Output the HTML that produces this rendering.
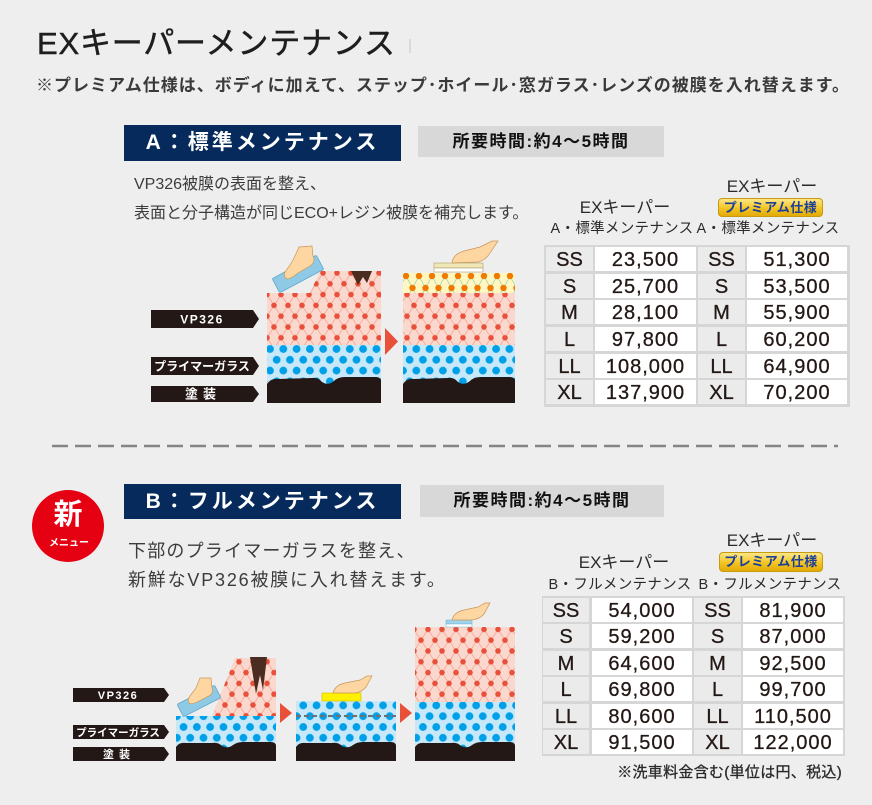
<!DOCTYPE html>
<html><head><meta charset="utf-8">
<style>
*{margin:0;padding:0;box-sizing:border-box}
html,body{width:872px;height:805px;overflow:hidden;background:#eeeeee}
body{position:relative;font-family:"Liberation Sans","Noto Sans CJK JP",sans-serif;color:#231815}
.a{position:absolute;white-space:nowrap}
.tb{position:absolute;background:#d6d6d6}
.c{position:absolute;height:24px;line-height:27px;text-align:center;font-size:20px;color:#231815;white-space:nowrap;-webkit-text-stroke:0.3px #231815}
.l{background:#ebebeb}
.v{background:#fff;letter-spacing:1px}
.hd{position:absolute;text-align:center;white-space:nowrap;color:#2a2a2a}
.badge{position:absolute;border-radius:4px;background:linear-gradient(#fbe786,#f3c522 55%,#e2aa06);border:1px solid #c99a10;color:#1d3f9c;font-weight:bold;font-size:13px;text-align:center;letter-spacing:0.5px;white-space:nowrap}
.nav{position:absolute;background:#062a5c;color:#fff;font-weight:bold;font-size:21px;text-align:center;letter-spacing:3px;white-space:nowrap}
.tm{position:absolute;background:#d8d8d8;color:#111;font-weight:bold;font-size:17px;text-align:center;letter-spacing:1.5px;white-space:nowrap}
</style></head><body>

<svg width="872" height="805" style="position:absolute;left:0;top:0">
<defs>
<pattern id="pk" width="14" height="21.6" patternUnits="userSpaceOnUse" x="267" y="273">
<rect width="14" height="21.6" fill="#fbd8cd"/>
<path d="M0,0 L7,10.8 L14,0 M0,21.6 L7,10.8 L14,21.6" stroke="#f3a594" stroke-width="0.8" fill="none"/>
<circle cx="0" cy="0" r="2.8" fill="#e9503b"/><circle cx="14" cy="0" r="2.8" fill="#e9503b"/>
<circle cx="0" cy="21.6" r="2.8" fill="#e9503b"/><circle cx="14" cy="21.6" r="2.8" fill="#e9503b"/>
<circle cx="7" cy="10.8" r="2.8" fill="#e9503b"/>
</pattern>
<pattern id="bl" width="13.3" height="21.6" patternUnits="userSpaceOnUse" x="270" y="349">
<rect width="13.3" height="21.6" fill="#c7e8f8"/>
<circle cx="0" cy="0" r="3.9" fill="#00a0e9"/><circle cx="13.3" cy="0" r="3.9" fill="#00a0e9"/>
<circle cx="0" cy="21.6" r="3.9" fill="#00a0e9"/><circle cx="13.3" cy="21.6" r="3.9" fill="#00a0e9"/>
<circle cx="6.65" cy="10.8" r="3.9" fill="#00a0e9"/>
</pattern>
<pattern id="yl" width="13" height="24" patternUnits="userSpaceOnUse" x="406" y="276">
<rect width="13" height="24" fill="#fff6c0"/>
<path d="M0,0 L6.5,12 L13,0 M0,24 L6.5,12 L13,24" stroke="#a3d5b5" stroke-width="0.8" fill="none"/>
<circle cx="0" cy="0" r="3.2" fill="#f07a00"/><circle cx="13" cy="0" r="3.2" fill="#f07a00"/>
<circle cx="0" cy="24" r="3.2" fill="#f07a00"/><circle cx="13" cy="24" r="3.2" fill="#f07a00"/>
<circle cx="6.5" cy="12" r="3.2" fill="#f07a00"/>
</pattern>
</defs>

<line x1="410" y1="39" x2="410" y2="53" stroke="#c4c4c4" stroke-width="1"/>

<!-- Section A labels -->
<path d="M151,310 H253 L259,319 L253,328 H151 Z" fill="#231815"/>
<path d="M151,357 H253 L259,366 L253,375 H151 Z" fill="#231815"/>
<path d="M151,386 H253 L259,394 L253,402 H151 Z" fill="#231815"/>
<text x="202" y="323.5" fill="#fff" font-size="12" font-weight="bold" text-anchor="middle" letter-spacing="1.5" font-family="Liberation Sans, Noto Sans CJK JP, sans-serif">VP326</text>
<text x="202" y="370.5" fill="#fff" font-size="12" font-weight="bold" text-anchor="middle" font-family="Liberation Sans, Noto Sans CJK JP, sans-serif">プライマーガラス</text>
<text x="203" y="398.5" fill="#fff" font-size="13" font-weight="bold" text-anchor="middle" letter-spacing="5" font-family="Liberation Sans, Noto Sans CJK JP, sans-serif">塗装</text>

<!-- A1 block -->
<rect x="267" y="345" width="114" height="40" fill="url(#bl)"/>
<polygon points="267,293 310,293 320,271 381,271 381,345 267,345" fill="url(#pk)"/>
<polygon points="351,271 372,271 367,283 363,277 358,285" fill="#4b2c20"/>
<path d="M267,384 Q271,378 278,379 L312,378 Q318,377 322,382 Q328,386 334,381 Q338,377 345,377 L376,377 Q380,377 381,380 V403 H267 Z" fill="#231815"/>
<rect x="-25" y="-8" width="50" height="16" rx="1.5" transform="translate(298,274) rotate(-28)" fill="#8ecae6" stroke="#5fa8cc" stroke-width="0.8"/>
<path d="M299,247 L312,246 L313,256 Q316,262 310,266 L298,273 Q291,279 287,279 Q283,277 285,272 L292,262 Q296,254 299,247 Z" fill="#fdd6a1" stroke="#c9955a" stroke-width="0.7"/>

<path d="M385,328 L398,341.5 L385,355 Z" fill="#e8503a"/>

<!-- A2 block -->
<rect x="403" y="273" width="112" height="20" fill="url(#yl)"/>
<rect x="403" y="293" width="112" height="52" fill="url(#pk)"/>
<rect x="403" y="345" width="112" height="40" fill="url(#bl)"/>
<path d="M403,384 Q407,378 414,379 L448,378 Q454,377 458,382 Q464,386 470,381 Q474,377 481,377 L510,377 Q514,377 515,380 V403 H403 Z" fill="#231815"/>
<rect x="434" y="263" width="49" height="5" fill="#efe7b5" stroke="#b0a070" stroke-width="0.6"/>
<rect x="434" y="268" width="49" height="4" fill="#ffffff" stroke="#b0a070" stroke-width="0.6"/>
<path d="M452,263 Q453,254 464,251 L480,247 L492,241 L498,241 L490,253 Q486,260 478,262 Z" fill="#fdd6a1" stroke="#c9955a" stroke-width="0.7"/>

<!-- dashed separator -->
<line x1="52" y1="446" x2="838" y2="446" stroke="#858585" stroke-width="2.5" stroke-dasharray="16 7"/>

<!-- new badge -->
<circle cx="68" cy="526" r="36" fill="#e50012"/>
<text x="68" y="524" fill="#fff" font-size="29" font-weight="bold" text-anchor="middle" font-family="Liberation Sans, Noto Sans CJK JP, sans-serif">新</text>
<text x="69" y="546" fill="#fff" font-size="10" font-weight="bold" text-anchor="middle" font-family="Liberation Sans, Noto Sans CJK JP, sans-serif">メニュー</text>

<!-- Section B labels -->
<path d="M73,688 H164 L169,695 L164,702 H73 Z" fill="#231815"/>
<path d="M73,725 H164 L169,732 L164,739 H73 Z" fill="#231815"/>
<path d="M73,747 H164 L169,754 L164,761 H73 Z" fill="#231815"/>
<text x="118" y="699" fill="#fff" font-size="11" font-weight="bold" text-anchor="middle" letter-spacing="1.5" font-family="Liberation Sans, Noto Sans CJK JP, sans-serif">VP326</text>
<text x="118" y="736" fill="#fff" font-size="10.5" font-weight="bold" text-anchor="middle" font-family="Liberation Sans, Noto Sans CJK JP, sans-serif">プライマーガラス</text>
<text x="119" y="758" fill="#fff" font-size="11" font-weight="bold" text-anchor="middle" letter-spacing="5" font-family="Liberation Sans, Noto Sans CJK JP, sans-serif">塗装</text>

<!-- B1 -->
<rect x="176" y="716" width="100" height="32" fill="url(#bl)"/>
<polygon points="212,716 235,658 276,658 276,716" fill="url(#pk)"/>
<polygon points="250,657 267,657 263,690 260,675 256,694" fill="#4b2c20"/>
<path d="M176,747 Q179,742 186,743 L212,743 Q218,742 222,746 Q228,749 233,745 Q237,742 243,742 L271,742 Q275,742 276,745 V761 H176 Z" fill="#231815"/>
<rect x="-21" y="-7" width="42" height="14" rx="1.5" transform="translate(199,701) rotate(-27)" fill="#8ecae6" stroke="#5fa8cc" stroke-width="0.8"/>
<path d="M200,678 L211,678 L212,688 Q214,693 209,696 L199,701 Q192,705 189,703 Q187,700 190,696 L196,688 Q198,683 200,678 Z" fill="#fdd6a1" stroke="#c9955a" stroke-width="0.7"/>

<path d="M280,703 L292,713 L280,723 Z" fill="#e8503a"/>

<!-- B2 -->
<rect x="296" y="701" width="100" height="47" fill="url(#bl)"/>
<line x1="296" y1="716" x2="396" y2="716" stroke="#707070" stroke-width="2" stroke-dasharray="5 3"/>
<path d="M296,747 Q299,742 306,743 L332,743 Q338,742 342,746 Q348,749 353,745 Q357,742 363,742 L391,742 Q395,742 396,745 V761 H296 Z" fill="#231815"/>
<rect x="322" y="693" width="39" height="8" fill="#fff100" stroke="#d4c800" stroke-width="0.7"/>
<path d="M333,693 Q335,685 345,683 L360,680 L367,676 L372,676 L366,687 Q362,692 355,693 Z" fill="#fdd6a1" stroke="#c9955a" stroke-width="0.7"/>

<path d="M400,703 L412,713 L400,723 Z" fill="#e8503a"/>

<!-- B3 -->
<rect x="415" y="627" width="100" height="75" fill="url(#pk)"/>
<rect x="415" y="702" width="100" height="46" fill="url(#bl)"/>
<path d="M415,747 Q418,742 425,743 L451,743 Q457,742 461,746 Q467,749 472,745 Q476,742 482,742 L510,742 Q514,742 515,745 V761 H415 Z" fill="#231815"/>
<rect x="446" y="620" width="26" height="4" fill="#9fd3ee" stroke="#6fb0d0" stroke-width="0.5"/>
<rect x="446" y="624" width="26" height="3" fill="#ffffff" stroke="#6fb0d0" stroke-width="0.5"/>
<path d="M452,620 Q454,612 464,610 L478,607 L485,603 L490,603 L484,614 Q480,619 472,620 Z" fill="#fdd6a1" stroke="#c9955a" stroke-width="0.7"/>
</svg>

<!-- Title -->
<div class="a" style="left:37px;top:26px;height:36px;line-height:36px;font-size:31px;letter-spacing:0.8px;color:#1e1e1e;-webkit-text-stroke:0.5px #1e1e1e">EXキーパーメンテナンス</div>
<div class="a" style="left:36px;top:76px;height:20px;line-height:20px;font-size:17px;font-weight:bold;letter-spacing:1px;color:#3a3a3a">※プレミアム仕様は、ボディに加えて、ステップ･ホイール･窓ガラス･レンズの被膜を入れ替えます。</div>

<!-- Section A headings -->
<div class="nav" style="left:124px;top:125px;width:277px;height:36px;line-height:36px">A：標準メンテナンス</div>
<div class="tm" style="left:418px;top:126px;width:246px;height:31px;line-height:31px">所要時間:約4～5時間</div>
<div class="a" style="left:134px;top:175px;height:20px;line-height:20px;font-size:16px;color:#3c3c3c">VP326被膜の表面を整え、</div>
<div class="a" style="left:134px;top:204px;height:20px;line-height:20px;font-size:16px;color:#3c3c3c">表面と分子構造が同じECO+レジン被膜を補充します。</div>

<!-- Table A headers -->
<div class="hd" style="left:565px;top:199px;width:120px;height:18px;line-height:18px;font-size:17px">EXキーパー</div>
<div class="hd" style="left:542px;top:221px;width:160px;height:16px;line-height:16px;font-size:14.5px;letter-spacing:0.3px">A・標準メンテナンス</div>
<div class="hd" style="left:712px;top:178px;width:120px;height:18px;line-height:18px;font-size:17px">EXキーパー</div>
<div class="badge" style="left:718px;top:198px;width:105px;height:19px;line-height:17px">プレミアム仕様</div>
<div class="hd" style="left:688px;top:221px;width:160px;height:16px;line-height:16px;font-size:14.5px;letter-spacing:0.3px">A・標準メンテナンス</div>

<!-- Table A -->
<div class="tb" style="left:544px;top:245px;width:306px;height:162px">
<div class="c l" style="left:2px;top:2px;width:47px">SS</div><div class="c v" style="left:51px;top:2px;width:101px">23,500</div><div class="c l" style="left:154px;top:2px;width:47px">SS</div><div class="c v" style="left:203px;top:2px;width:100px">51,300</div>
<div class="c l" style="left:2px;top:29px;width:47px">S</div><div class="c v" style="left:51px;top:29px;width:101px">25,700</div><div class="c l" style="left:154px;top:29px;width:47px">S</div><div class="c v" style="left:203px;top:29px;width:100px">53,500</div>
<div class="c l" style="left:2px;top:55px;width:47px">M</div><div class="c v" style="left:51px;top:55px;width:101px">28,100</div><div class="c l" style="left:154px;top:55px;width:47px">M</div><div class="c v" style="left:203px;top:55px;width:100px">55,900</div>
<div class="c l" style="left:2px;top:82px;width:47px">L</div><div class="c v" style="left:51px;top:82px;width:101px">97,800</div><div class="c l" style="left:154px;top:82px;width:47px">L</div><div class="c v" style="left:203px;top:82px;width:100px">60,200</div>
<div class="c l" style="left:2px;top:109px;width:47px">LL</div><div class="c v" style="left:51px;top:109px;width:101px">108,000</div><div class="c l" style="left:154px;top:109px;width:47px">LL</div><div class="c v" style="left:203px;top:109px;width:100px">64,900</div>
<div class="c l" style="left:2px;top:135px;width:47px">XL</div><div class="c v" style="left:51px;top:135px;width:101px">137,900</div><div class="c l" style="left:154px;top:135px;width:47px">XL</div><div class="c v" style="left:203px;top:135px;width:100px">70,200</div>
</div>

<!-- Section B headings -->
<div class="nav" style="left:124px;top:484px;width:277px;height:35px;line-height:35px">B：フルメンテナンス</div>
<div class="tm" style="left:420px;top:485px;width:244px;height:32px;line-height:32px">所要時間:約4～5時間</div>
<div class="a" style="left:128px;top:540px;height:22px;line-height:22px;font-size:18px;letter-spacing:1.2px;color:#3c3c3c">下部のプライマーガラスを整え、</div>
<div class="a" style="left:128px;top:569px;height:22px;line-height:22px;font-size:18px;letter-spacing:1.8px;color:#3c3c3c">新鮮なVP326被膜に入れ替えます。</div>

<!-- Table B headers -->
<div class="hd" style="left:564px;top:554px;width:120px;height:18px;line-height:18px;font-size:17px">EXキーパー</div>
<div class="hd" style="left:540px;top:577px;width:160px;height:16px;line-height:16px;font-size:14.5px;letter-spacing:0.3px">B・フルメンテナンス</div>
<div class="hd" style="left:712px;top:532px;width:120px;height:18px;line-height:18px;font-size:17px">EXキーパー</div>
<div class="badge" style="left:719px;top:552px;width:104px;height:20px;line-height:18px">プレミアム仕様</div>
<div class="hd" style="left:690px;top:577px;width:160px;height:16px;line-height:16px;font-size:14.5px;letter-spacing:0.3px">B・フルメンテナンス</div>

<!-- Table B -->
<div class="tb" style="left:542px;top:596px;width:303px;height:160px">
<div class="c l" style="left:1px;top:2px;width:46px">SS</div><div class="c v" style="left:50px;top:2px;width:100px">54,000</div><div class="c l" style="left:152px;top:2px;width:47px">SS</div><div class="c v" style="left:201px;top:2px;width:100px">81,900</div>
<div class="c l" style="left:1px;top:28px;width:46px">S</div><div class="c v" style="left:50px;top:28px;width:100px">59,200</div><div class="c l" style="left:152px;top:28px;width:47px">S</div><div class="c v" style="left:201px;top:28px;width:100px">87,000</div>
<div class="c l" style="left:1px;top:55px;width:46px">M</div><div class="c v" style="left:50px;top:55px;width:100px">64,600</div><div class="c l" style="left:152px;top:55px;width:47px">M</div><div class="c v" style="left:201px;top:55px;width:100px">92,500</div>
<div class="c l" style="left:1px;top:81px;width:46px">L</div><div class="c v" style="left:50px;top:81px;width:100px">69,800</div><div class="c l" style="left:152px;top:81px;width:47px">L</div><div class="c v" style="left:201px;top:81px;width:100px">99,700</div>
<div class="c l" style="left:1px;top:108px;width:46px">LL</div><div class="c v" style="left:50px;top:108px;width:100px">80,600</div><div class="c l" style="left:152px;top:108px;width:47px">LL</div><div class="c v" style="left:201px;top:108px;width:100px">110,500</div>
<div class="c l" style="left:1px;top:134px;width:46px">XL</div><div class="c v" style="left:50px;top:134px;width:100px">91,500</div><div class="c l" style="left:152px;top:134px;width:47px">XL</div><div class="c v" style="left:201px;top:134px;width:100px">122,000</div>
</div>

<div class="a" style="right:30px;top:765px;height:16px;line-height:16px;font-size:15px;letter-spacing:0.3px;color:#2a2a2a;-webkit-text-stroke:0.3px #2a2a2a">※洗車料金含む(単位は円、税込)</div>

</body></html>
